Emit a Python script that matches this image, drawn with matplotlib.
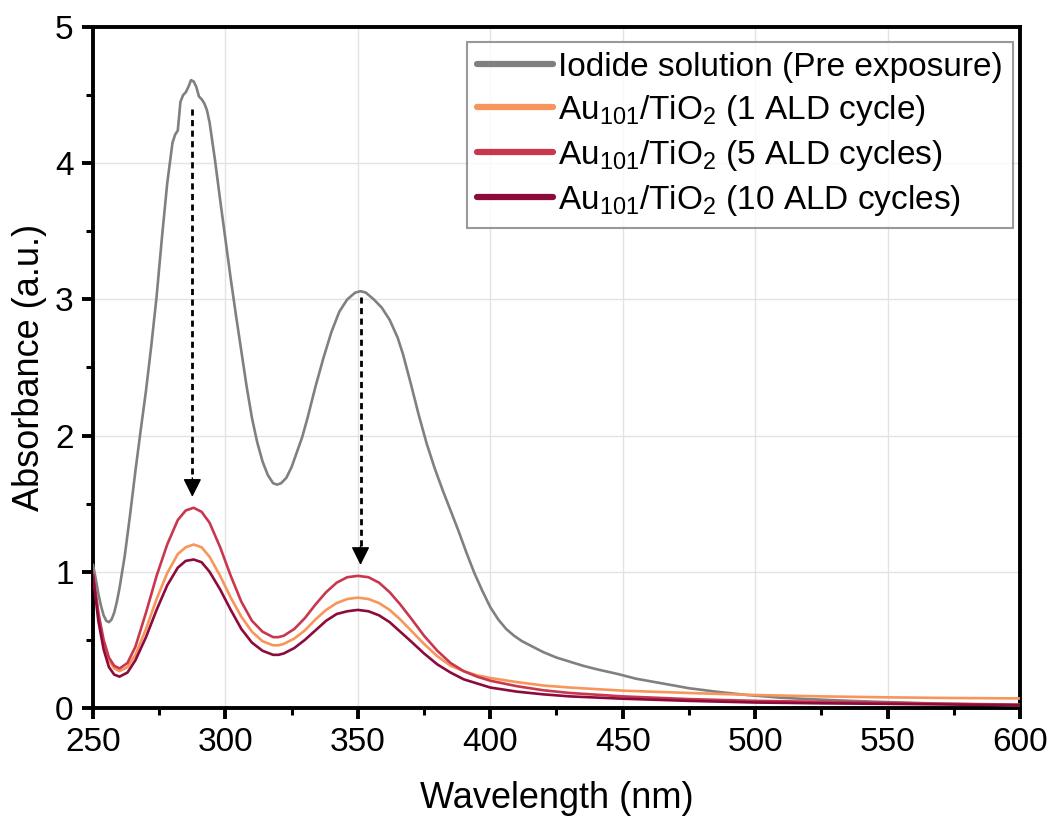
import numpy as np
import matplotlib
matplotlib.use("Agg")
import matplotlib.pyplot as plt
from matplotlib.ticker import MultipleLocator

plt.rcParams['font.family'] = ['Liberation Sans', 'DejaVu Sans']
plt.rcParams['mathtext.default'] = 'regular'

# Iodide solution (pre exposure)
wl_gray = [250, 251, 252, 253, 254, 255, 256, 257, 258, 259, 260, 262, 264, 266, 268, 270,
           272, 274, 276, 278, 280, 281, 282, 283, 284, 285, 286, 287, 288, 289, 290, 291,
           292, 293, 294, 296, 298, 300, 302, 304, 306, 308, 310, 312, 314, 316, 318, 319.5,
           321, 323, 325, 327, 329, 331, 334, 337, 340, 343, 346, 349, 351, 353, 356, 359,
           362, 365, 367, 370, 373, 376, 379, 382, 385, 388, 391, 394, 397, 400, 403, 406,
           409, 412, 416, 420, 425, 430, 435, 440, 448, 455, 465, 475, 485, 497, 510, 520,
           535, 545, 560, 575, 590, 600]
abs_gray = [1.05, 0.95, 0.84, 0.75, 0.68, 0.64, 0.63, 0.65, 0.70, 0.78, 0.88, 1.12, 1.42, 1.74, 2.04, 2.33,
            2.66, 3.02, 3.45, 3.85, 4.15, 4.21, 4.24, 4.45, 4.50, 4.52, 4.56, 4.61, 4.60, 4.56, 4.49, 4.47,
            4.44, 4.39, 4.30, 4.03, 3.73, 3.44, 3.15, 2.88, 2.62, 2.36, 2.13, 1.95, 1.81, 1.71, 1.65, 1.64,
            1.65, 1.69, 1.77, 1.88, 1.99, 2.13, 2.36, 2.57, 2.76, 2.91, 3.00, 3.05, 3.06, 3.05, 3.00, 2.94,
            2.85, 2.72, 2.60, 2.38, 2.15, 1.94, 1.76, 1.60, 1.45, 1.30, 1.14, 0.99, 0.86, 0.74, 0.65, 0.58,
            0.53, 0.49, 0.45, 0.41, 0.37, 0.34, 0.31, 0.285, 0.25, 0.215, 0.18, 0.145, 0.12, 0.095, 0.075, 0.065,
            0.053, 0.046, 0.037, 0.030, 0.024, 0.02]

# Au101/TiO2 samples
wl = [250, 252, 254, 256, 258, 260, 263, 266, 270, 274, 278, 282, 285, 288, 291, 294, 298,
      302, 306, 310, 314, 318, 320, 322, 326, 330, 334, 338, 342, 346, 350, 354, 358, 362,
      366, 370, 375, 380, 385, 390, 395, 400, 410, 420, 430, 450, 475, 500, 525, 550, 575, 600]
abs_1 = [0.99, 0.69, 0.48, 0.35, 0.29, 0.27, 0.30, 0.39, 0.58, 0.80, 0.99, 1.13, 1.18, 1.20, 1.18, 1.11, 0.97,
         0.81, 0.67, 0.56, 0.49, 0.46, 0.46, 0.47, 0.51, 0.57, 0.65, 0.72, 0.77, 0.80, 0.81, 0.80, 0.77, 0.72,
         0.65, 0.57, 0.47, 0.38, 0.31, 0.27, 0.24, 0.22, 0.19, 0.165, 0.15, 0.127, 0.11, 0.095, 0.085, 0.078, 0.073, 0.07]
abs_5 = [0.99, 0.70, 0.50, 0.37, 0.31, 0.29, 0.33, 0.45, 0.70, 0.97, 1.20, 1.38, 1.45, 1.47, 1.44, 1.36, 1.18,
         0.97, 0.78, 0.64, 0.56, 0.52, 0.52, 0.53, 0.58, 0.66, 0.76, 0.85, 0.92, 0.96, 0.97, 0.96, 0.92, 0.85,
         0.76, 0.66, 0.53, 0.42, 0.33, 0.27, 0.23, 0.20, 0.16, 0.13, 0.11, 0.085, 0.065, 0.052, 0.045, 0.038, 0.03, 0.025]
abs_10 = [0.97, 0.64, 0.43, 0.30, 0.245, 0.23, 0.26, 0.35, 0.52, 0.72, 0.90, 1.03, 1.08, 1.09, 1.07, 1.00, 0.87,
          0.72, 0.58, 0.48, 0.42, 0.39, 0.39, 0.40, 0.44, 0.50, 0.57, 0.64, 0.69, 0.71, 0.72, 0.71, 0.68, 0.63,
          0.56, 0.49, 0.40, 0.32, 0.26, 0.21, 0.18, 0.15, 0.12, 0.10, 0.085, 0.068, 0.052, 0.04, 0.034, 0.03, 0.025, 0.02]

labels = ['Iodide solution (Pre exposure)',
          r'Au$_{101}$/TiO$_2$ (1 ALD cycle)',
          r'Au$_{101}$/TiO$_2$ (5 ALD cycles)',
          r'Au$_{101}$/TiO$_2$ (10 ALD cycles)']
colors = ['#808080', '#f8955a', '#c9374f', '#8c0b3c']

# arrows: x position, start, tip
arrow_x = [287.5, 351]
arrow_start = [4.40, 3.02]
arrow_tip = [1.55, 1.05]

fig = plt.figure(figsize=(10.5, 8.16), dpi=100)
ax = fig.add_axes([0.0886, 0.1324, 0.8828, 0.8345])

ax.plot(wl_gray, abs_gray, color=colors[0], lw=1.9, label=labels[0], zorder=3)
ax.plot(wl, abs_1, color=colors[1], lw=1.9, label=labels[1], zorder=3)
ax.plot(wl, abs_5, color=colors[2], lw=1.9, label=labels[2], zorder=3)
ax.plot(wl, abs_10, color=colors[3], lw=1.9, label=labels[3], zorder=3)

for x, y0, y1 in zip(arrow_x, arrow_start, arrow_tip):
    ax.plot([x, x], [y0, y1 + 0.1], color='black', lw=2, linestyle=(0, (2.2, 1.6)), zorder=4)
    ax.annotate('', xy=(x, y1), xytext=(x, y1 + 0.14),
                arrowprops=dict(arrowstyle='-|>', color='black', lw=1, mutation_scale=28,
                                shrinkA=0, shrinkB=0), zorder=4)

ax.set_xlim(250, 600)
ax.set_ylim(0, 5)
ax.xaxis.set_major_locator(MultipleLocator(50))
ax.xaxis.set_minor_locator(MultipleLocator(25))
ax.yaxis.set_major_locator(MultipleLocator(1))
ax.yaxis.set_minor_locator(MultipleLocator(0.5))
ax.grid(True, which='major', color='#e3e3e3', lw=1, zorder=0)
ax.set_axisbelow(True)

for s in ax.spines.values():
    s.set_linewidth(2.8)
ax.tick_params(which='major', direction='out', length=8, width=2.8, labelsize=24, pad=6)
ax.tick_params(which='minor', direction='out', length=5, width=2.2)
ax.tick_params(which='both', top=False, right=False)

ax.set_xlabel('Wavelength (nm)', fontsize=26, labelpad=16)
ax.set_ylabel('Absorbance (a.u.)', fontsize=26, labelpad=6)

leg = ax.legend(loc='upper right', fontsize=24, frameon=True, fancybox=False,
                edgecolor='#808080', handlelength=2.3, handletextpad=0.15,
                borderpad=0.3, labelspacing=0.3, borderaxespad=0,
                bbox_to_anchor=(0.9924, 0.978))
leg.get_frame().set_linewidth(1.5)
for line in leg.get_lines():
    line.set_linewidth(4.5)
    line.set_solid_capstyle('round')

fig.savefig('out.png', dpi=100)
